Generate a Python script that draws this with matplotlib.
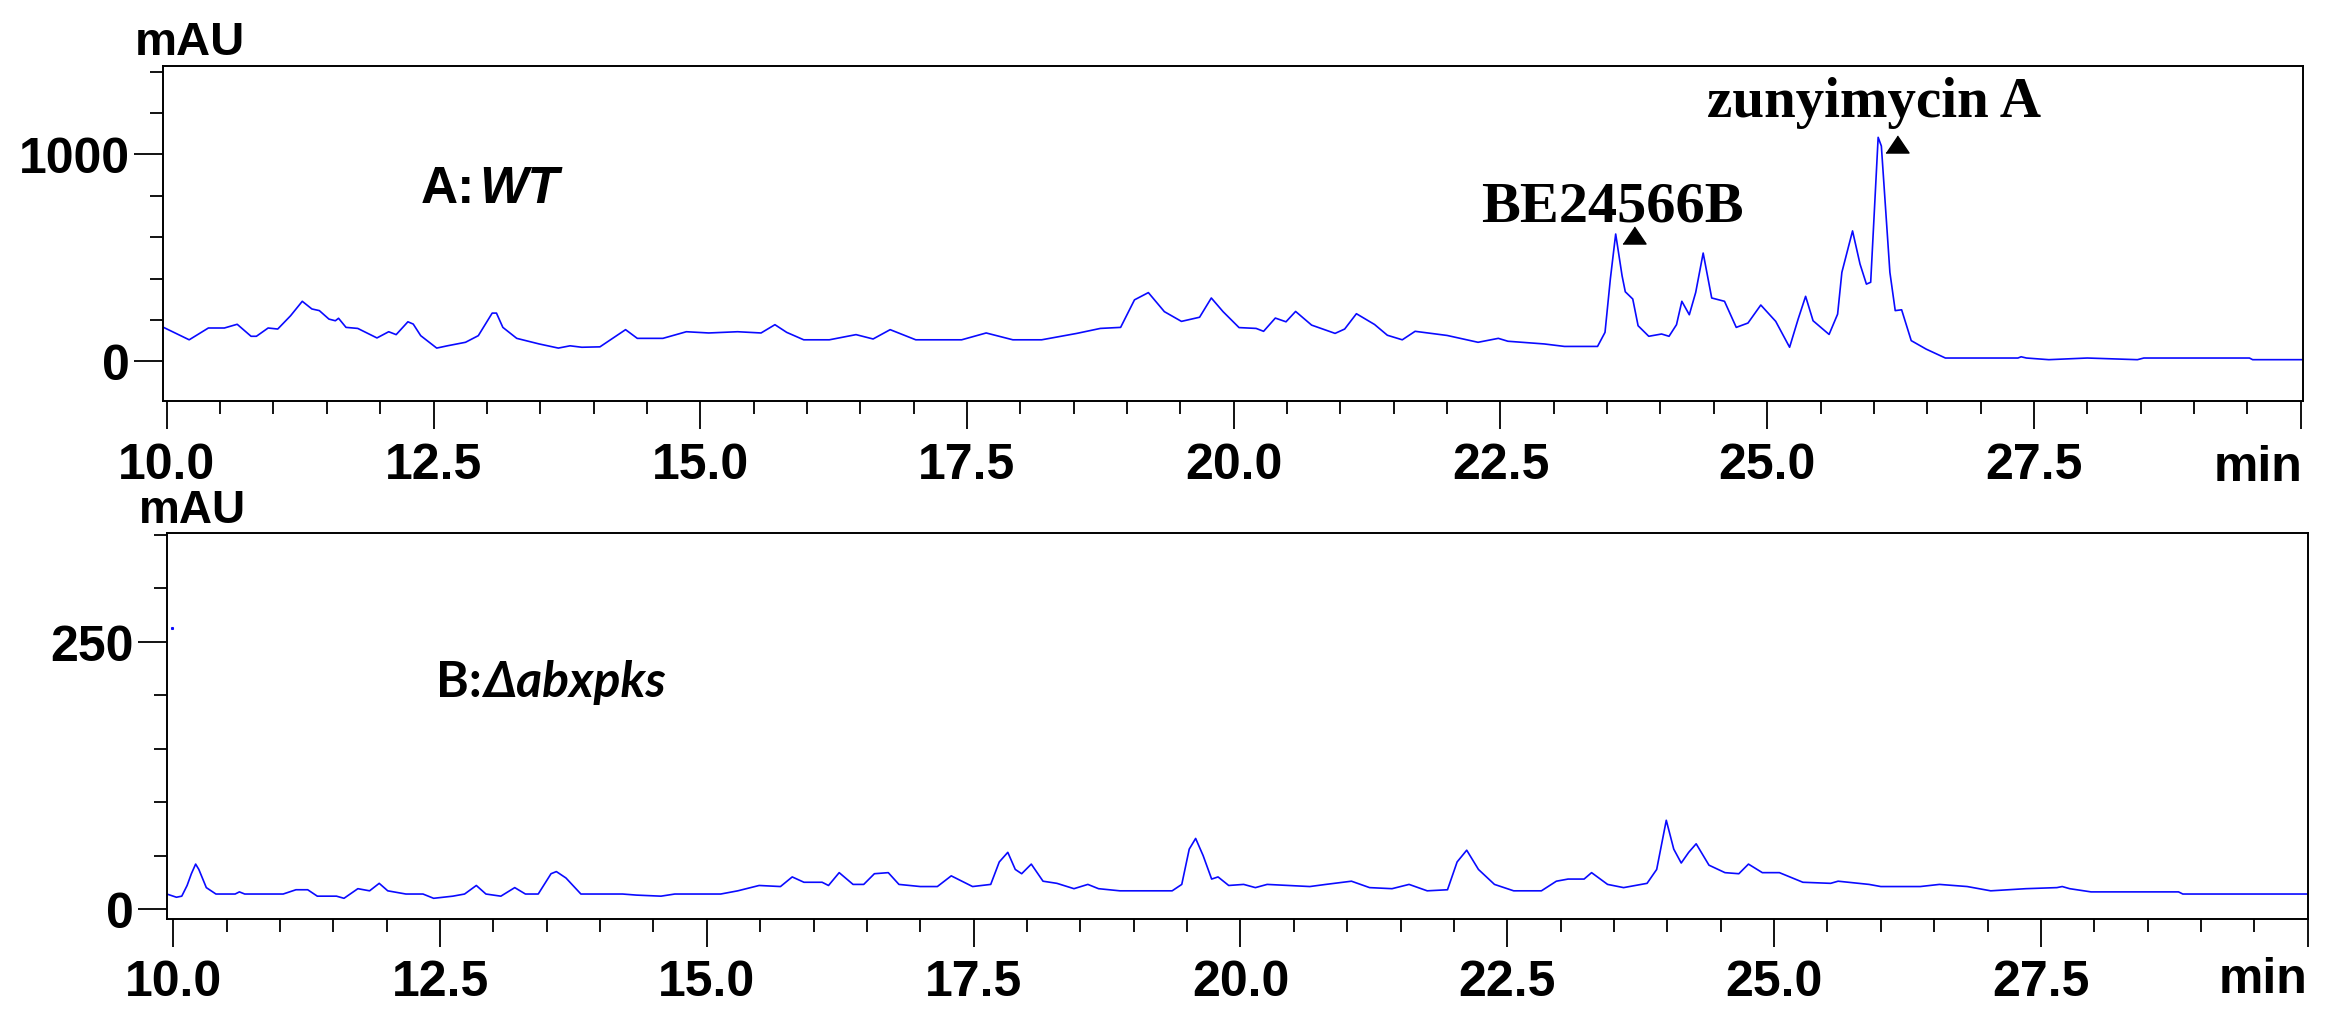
# hplc chromatograms: wild type vs abxpks knockout
import matplotlib
matplotlib.use('Agg')
import matplotlib.pyplot as plt

# top trace, A: WT (retention time in min, absorbance in mAU)
wt_time = [9.97, 10.21, 10.39, 10.54, 10.66, 10.79, 10.84, 10.95, 11.04, 11.16,
           11.27, 11.36, 11.43, 11.52, 11.58, 11.61, 11.68, 11.79, 11.97, 12.08,
           12.15, 12.26, 12.31, 12.38, 12.53, 12.63, 12.80, 12.92, 13.05, 13.09,
           13.15, 13.28, 13.49, 13.67, 13.78, 13.89, 14.06, 14.30, 14.41, 14.65,
           14.87, 15.08, 15.35, 15.57, 15.70, 15.81, 15.97, 16.21, 16.46, 16.62,
           16.78, 17.02, 17.45, 17.68, 17.93, 18.20, 18.53, 18.75, 18.94, 19.07,
           19.20, 19.35, 19.51, 19.68, 19.79, 19.90, 20.05, 20.21, 20.28, 20.39,
           20.49, 20.58, 20.73, 20.95, 21.04, 21.15, 21.32, 21.44, 21.58, 21.70,
           22.00, 22.29, 22.48, 22.57, 22.91, 23.10, 23.41, 23.48, 23.53, 23.58,
           23.64, 23.67, 23.74, 23.79, 23.89, 24.01, 24.08, 24.15, 24.20, 24.27,
           24.33, 24.40, 24.48, 24.60, 24.71, 24.82, 24.94, 25.08, 25.21, 25.29,
           25.36, 25.43, 25.58, 25.66, 25.70, 25.80, 25.87, 25.93, 25.97, 26.04,
           26.07, 26.15, 26.20, 26.26, 26.35, 26.49, 26.67, 27.35, 27.38, 27.43,
           27.64, 28.00, 28.47, 28.53, 29.52, 29.55, 30.02]
wt_signal = [164, 104, 161, 161, 179, 121, 121, 161, 156, 220,
             290, 253, 245, 204, 196, 208, 164, 159, 113, 143,
             129, 191, 180, 124, 64, 75, 92, 124, 233, 233,
             164, 111, 84, 64, 75, 68, 70, 153, 111, 111,
             143, 137, 143, 137, 177, 140, 104, 104, 129, 108,
             153, 104, 104, 137, 104, 104, 135, 159, 164, 297,
             332, 240, 193, 213, 306, 240, 163, 159, 145, 209,
             191, 241, 175, 135, 156, 230, 178, 126, 104, 145,
             125, 92, 111, 97, 84, 72, 72, 140, 398, 615,
             413, 336, 301, 172, 121, 132, 121, 177, 290, 225,
             333, 523, 306, 290, 164, 185, 272, 193, 68, 204,
             314, 196, 130, 228, 430, 630, 470, 373, 382, 1082,
             1040, 430, 245, 249, 100, 59, 16, 16, 22, 16,
             8, 16, 8, 16, 16, 8, 8]

# bottom trace, B: delta abxpks
ko_time = [9.94, 10.03, 10.08, 10.13, 10.17, 10.21, 10.24, 10.31, 10.40, 10.58,
           10.62, 10.67, 11.03, 11.15, 11.26, 11.35, 11.53, 11.60, 11.73, 11.84,
           11.93, 12.01, 12.18, 12.34, 12.44, 12.62, 12.73, 12.84, 12.93, 13.07,
           13.20, 13.30, 13.42, 13.54, 13.59, 13.68, 13.82, 14.21, 14.34, 14.57,
           14.70, 15.13, 15.29, 15.49, 15.69, 15.80, 15.91, 16.08, 16.14, 16.24,
           16.37, 16.47, 16.57, 16.70, 16.80, 17.00, 17.16, 17.29, 17.49, 17.66,
           17.74, 17.82, 17.89, 17.95, 18.04, 18.15, 18.28, 18.44, 18.57, 18.67,
           18.87, 19.36, 19.45, 19.52, 19.58, 19.65, 19.73, 19.79, 19.89, 20.03,
           20.14, 20.25, 20.65, 20.80, 21.04, 21.21, 21.42, 21.58, 21.75, 21.94,
           22.03, 22.12, 22.23, 22.38, 22.56, 22.82, 22.96, 23.07, 23.22, 23.29,
           23.44, 23.59, 23.81, 23.90, 23.99, 24.06, 24.13, 24.20, 24.27, 24.39,
           24.54, 24.67, 24.76, 24.89, 25.05, 25.27, 25.53, 25.60, 25.89, 26.00,
           26.37, 26.55, 26.81, 27.03, 27.36, 27.65, 27.70, 27.77, 27.97, 28.79,
           28.83, 30.00]
ko_signal = [14, 11, 12, 22, 33, 42, 37, 20, 14, 14,
             16, 14, 14, 18, 18, 12, 12, 10, 19, 17,
             24, 17, 14, 14, 10, 12, 14, 22, 14, 12,
             20, 14, 14, 33, 35, 29, 14, 14, 13, 12,
             14, 14, 17, 22, 21, 30, 25, 25, 22, 34,
             23, 23, 33, 34, 23, 21, 21, 31, 21, 23,
             44, 53, 37, 33, 42, 26, 24, 19, 23, 19,
             17, 17, 23, 56, 66, 50, 28, 30, 22, 23,
             20, 23, 21, 23, 26, 20, 19, 23, 17, 18,
             44, 55, 37, 23, 17, 17, 26, 28, 28, 34,
             23, 20, 24, 37, 83, 56, 43, 53, 61, 41,
             34, 33, 42, 34, 34, 25, 24, 26, 23, 21,
             21, 23, 21, 17, 19, 20, 21, 19, 16, 16,
             14, 14]

# stray pixel near the left edge of the bottom panel
stray_time = [9.99]
stray_signal = [263]

# labelled peaks (retention time, mAU)
peak_names = ['BE24566B', 'zunyimycin A']
peak_time = [23.75, 26.22]
peak_mark = [608, 1050]

x_major = [10.0, 12.5, 15.0, 17.5, 20.0, 22.5, 25.0, 27.5, 30.0]
x_major_labels = ['10.0', '12.5', '15.0', '17.5', '20.0', '22.5', '25.0', '27.5', '']
x_minor = [10.5, 11.0, 11.5, 12.0, 13.0, 13.5, 14.0, 14.5, 15.5, 16.0, 16.5, 17.0,
           18.0, 18.5, 19.0, 19.5, 20.5, 21.0, 21.5, 22.0, 23.0, 23.5, 24.0, 24.5,
           25.5, 26.0, 26.5, 27.0, 28.0, 28.5, 29.0, 29.5]

# fonts
plt.rcParams['font.family'] = ['Liberation Sans', 'DejaVu Sans']
plt.rcParams['font.weight'] = 'bold'

line_color = '#0a0aff'
ink = 'black'

fig = plt.figure(figsize=(23.27, 10.2), dpi=100)
ax1 = fig.add_axes([0.0702, 0.6056, 0.9194, 0.3290])
ax2 = fig.add_axes([0.0716, 0.0980, 0.9201, 0.3781])

ax1.plot(wt_time, wt_signal, color=line_color, linewidth=1.2)
ax2.plot(ko_time, ko_signal, color=line_color, linewidth=1.2)
ax2.plot(stray_time, stray_signal, linestyle='none', marker='s', markersize=1.2,
         color=line_color)

ax1.set_xlim(9.968, 30.02)
ax1.set_ylim(-193, 1428)
ax2.set_xlim(9.938, 29.99)
ax2.set_ylim(-9.4, 351.4)

# axes frame and ticks
for ax in (ax1, ax2):
    for side in ax.spines.values():
        side.set_linewidth(1.4)
        side.set_color(ink)
    ax.set_xticks(x_major)
    ax.set_xticklabels(x_major_labels)
    ax.set_xticks(x_minor, minor=True)
    ax.tick_params(axis='x', which='major', length=20, width=1.3, direction='out',
                   labelsize=36, pad=9)
    ax.tick_params(axis='x', which='minor', length=9.5, width=1.3, direction='out')
    ax.tick_params(axis='y', which='major', length=21, width=1.3, direction='out',
                   labelsize=36, pad=3)
    ax.tick_params(axis='y', which='minor', length=9.5, width=1.3, direction='out')

ax1.set_yticks([0, 1000])
ax1.set_yticks([200, 400, 600, 800, 1200, 1400], minor=True)
ax2.set_yticks([0, 250])
ax2.set_yticks([50, 100, 150, 200, 300, 350], minor=True)

# unit labels
fig.text(0.0817, 0.946, 'mAU', ha='center', va='baseline', fontsize=34)
fig.text(0.0827, 0.4873, 'mAU', ha='center', va='baseline', fontsize=33)
fig.text(0.9894, 0.5284, 'min', ha='right', va='baseline', fontsize=36)
fig.text(0.9917, 0.0265, 'min', ha='right', va='baseline', fontsize=36)

# sample labels
a_lbl = ax1.text(0.1205, 0.594, 'A:', transform=ax1.transAxes, fontsize=37,
                 va='baseline')
ax1.annotate('WT', xy=(1, 0), xycoords=a_lbl, xytext=(3, 0),
             textcoords='offset points', fontsize=37, fontstyle='italic',
             va='bottom')
b_lbl = ax2.text(0.1258, 0.578, 'B:', transform=ax2.transAxes, fontsize=36,
                 family=['Lato', 'DejaVu Sans'], va='baseline')
ax2.annotate('\u0394abxpks', xy=(1, 0), xycoords=b_lbl, xytext=(1, 0),
             textcoords='offset points', fontsize=36, fontstyle='italic',
             family=['Lato', 'DejaVu Sans'], va='bottom')

# peak markers and names
tri = [(-1, -0.74), (1, -0.74), (0, 0.74)]
ax1.plot(peak_time, peak_mark, linestyle='none', marker=tri, markersize=16.6,
         color=ink)
ax1.text(22.32, 678, peak_names[0], family='Liberation Serif', fontsize=42,
         va='baseline')
ax1.text(24.44, 1185, peak_names[1], family='Liberation Serif', fontsize=41,
         va='baseline')

fig.savefig('out.png', dpi=100, facecolor='white')
